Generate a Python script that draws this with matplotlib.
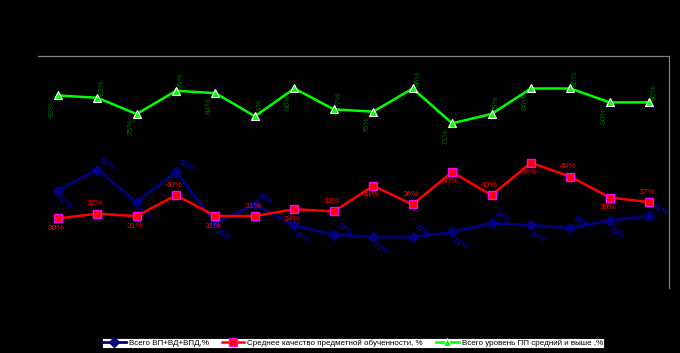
import matplotlib
matplotlib.use("Agg")
import matplotlib.pyplot as plt
import numpy as np

plt.rcParams['font.family'] = ['Liberation Sans', 'DejaVu Sans']

categories = list(range(1, 17))
blue_vals = [42, 51, 37, 50, 28, 36, 27, 23, 22, 22, 24, 28, 27, 26, 29, 31]
red_vals = [30, 32, 31, 40, 31, 31, 34, 33, 44, 36, 50, 40, 54, 48, 39, 37]
green_vals = [83, 82, 75, 85, 84, 74, 86, 77, 76, 86, 71, 75, 86, 86, 80, 80]

blue_name = "Всего ВП+ВД+ВПД,%"
red_name = "Среднее качество предметной обученности, %"
green_name = "Всего уровень ПП средний и выше ,%"

fig = plt.figure(figsize=(6.8, 3.53), dpi=100, facecolor='black')
ax = fig.add_axes([38/680, 1-288/353, (669-38)/680, (288-56)/353])
ax.set_facecolor('black')
x = np.arange(len(categories))

lb, = ax.plot(x, blue_vals, color='#000080', lw=2.0, marker='D', ms=5,
              mfc='#000080', mec='#000080', label=blue_name, zorder=3)
lr, = ax.plot(x, red_vals, color='#FF0000', lw=1.8, marker='s', ms=6,
              mfc='#FF0000', mec='#FF00FF', mew=1.0, label=red_name, zorder=4)
lg, = ax.plot(x, green_vals, color='#00FF00', lw=1.8, marker='^', ms=6,
              mfc='#00FF00', mec='white', mew=0.8, label=green_name, zorder=4)

fs = 6
for i, v in enumerate(red_vals):
    dy = -10 if i % 2 == 0 else 10
    ax.annotate(f"{v}%", (x[i], v), xytext=(-2, dy), textcoords='offset pixels',
                ha='center', va='center', color='#FF0000', fontsize=fs)
for i, v in enumerate(blue_vals):
    dx, dy = (7, -12) if i % 2 == 0 else (10, 6)
    ax.annotate(f"{v}%", (x[i], v), xytext=(dx, dy), textcoords='offset pixels',
                ha='center', va='center', color='#0000E0', fontsize=fs, rotation=-30)
for i, v in enumerate(green_vals):
    dx, dy = (-6, -13) if i % 2 == 0 else (5, 10)
    ax.annotate(f"{v}%", (x[i], v), xytext=(dx, dy), textcoords='offset pixels',
                ha='center', va='center', color='#006400', fontsize=fs, rotation=90)

ax.set_xlim(-0.5, len(categories) - 0.5)
ax.set_ylim(0, 100)
ax.set_xticks([])
ax.set_yticks([])
for s in ['left', 'bottom']:
    ax.spines[s].set_visible(False)
for s in ['top', 'right']:
    ax.spines[s].set_color('#808080')
    ax.spines[s].set_linewidth(0.9)

leg = fig.legend(handles=[lb, lr, lg], loc='center', bbox_to_anchor=(353/680, 1-343/353),
                 ncol=3, fontsize=5.8, frameon=True, fancybox=False, framealpha=1.0,
                 handlelength=2.8, handletextpad=0.4, columnspacing=1.6,
                 borderpad=0.15, borderaxespad=0)
leg.get_frame().set_facecolor('white')
leg.get_frame().set_edgecolor('black')
leg.get_frame().set_linewidth(0.6)
for t in leg.get_texts():
    t.set_color('black')

fig.savefig("out.png", dpi=100, facecolor='black')
